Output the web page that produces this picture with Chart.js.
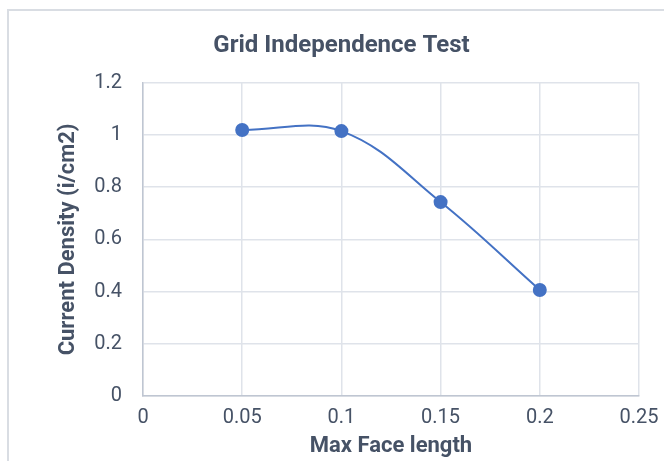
<!DOCTYPE html>
<html>
<head>
<meta charset="utf-8">
<script src="https://cdn.jsdelivr.net/npm/chart.js@4/dist/chart.umd.min.js"></script>
<style>
  html, body { margin: 0; padding: 0; background: #ffffff; }
  #wrap { width: 664px; height: 461px; position: relative; }
</style>
</head>
<body>
<div id="wrap"><canvas id="chart1"></canvas></div>
<script>
// data
const faceLength = [0.05, 0.1, 0.15, 0.2];
const currentDensity = [1.019, 1.015, 0.743, 0.406];
const xTickLabels = ['0', '0.05', '0.1', '0.15', '0.2', '0.25'];
const yTickLabels = ['0', '0.2', '0.4', '0.6', '0.8', '1', '1.2'];

const FONT = "Roboto, 'Liberation Sans', sans-serif";
const TEXT = '#465266';

// light frame round the whole chart, like the office chart border
const frame = {
    id: 'frame',
    beforeDraw(chart) {
        const c = chart.ctx;
        c.save();
        c.strokeStyle = '#d9dde3';
        c.lineWidth = 2;
        c.strokeRect(8, 10, chart.width + 20, chart.height + 20);
        c.restore();
    }
};

const ctx1 = document.getElementById('chart1').getContext('2d');
const chart1 = new Chart(ctx1, {
    type: 'scatter',
    data: {
        datasets: [{
            label: 'Current Density',
            data: faceLength.map((x, i) => ({ x: x, y: currentDensity[i] })),
            showLine: true,
            borderColor: '#4472c4',
            backgroundColor: '#4472c4',
            borderWidth: 2,
            pointRadius: 6,
            pointHoverRadius: 6,
            tension: 0.38,
            cubicInterpolationMode: 'default',
        }]
    },
    options: {
        responsive: true,
        maintainAspectRatio: false,
        animation: false,
        layout: { padding: { left: 44, right: 25, top: 0, bottom: 0 } },
        plugins: {
            legend: { display: false },
            tooltip: { enabled: false },
            title: {
                display: true,
                text: 'Grid Independence Test',
                color: TEXT,
                font: { family: FONT, size: 24, weight: 'bold' },
                padding: { top: 32, bottom: 22 },
            }
        },
        scales: {
            x: {
                type: 'linear',
                min: 0,
                max: 0.25,
                afterBuildTicks: s => { s.ticks = xTickLabels.map(t => ({ value: +t })); },
                ticks: {
                    callback: (v, i) => xTickLabels[i],
                    color: TEXT,
                    font: { family: FONT, size: 20 },
                    padding: 10,
                    maxRotation: 0,
                },
                grid: { color: '#dfe3ea', lineWidth: 1.5, drawTicks: false },
                border: { color: '#bfc6d2', width: 1.5 },
                title: {
                    display: true,
                    text: 'Max Face length',
                    color: TEXT,
                    font: { family: FONT, size: 22, weight: 'bold' },
                    padding: { top: 0, bottom: 1 },
                },
                afterFit: s => { s.height = 65; s.paddingLeft = 0; s.paddingRight = 0; }
            },
            y: {
                type: 'linear',
                min: 0,
                max: 1.2,
                afterBuildTicks: s => { s.ticks = yTickLabels.map(t => ({ value: +t })); },
                ticks: {
                    callback: (v, i) => yTickLabels[i],
                    color: TEXT,
                    font: { family: FONT, size: 20 },
                    padding: 21,
                },
                grid: { color: '#dfe3ea', lineWidth: 1.5, drawTicks: false },
                border: { color: '#bfc6d2', width: 1.5 },
                title: {
                    display: true,
                    text: 'Current Density (i/cm2)',
                    color: TEXT,
                    font: { family: FONT, size: 22, weight: 'bold' },
                    padding: { top: 11, bottom: 0 },
                },
                afterFit: s => { s.width = 99; }
            }
        }
    },
    plugins: [frame]
});
</script>
</body>
</html>
